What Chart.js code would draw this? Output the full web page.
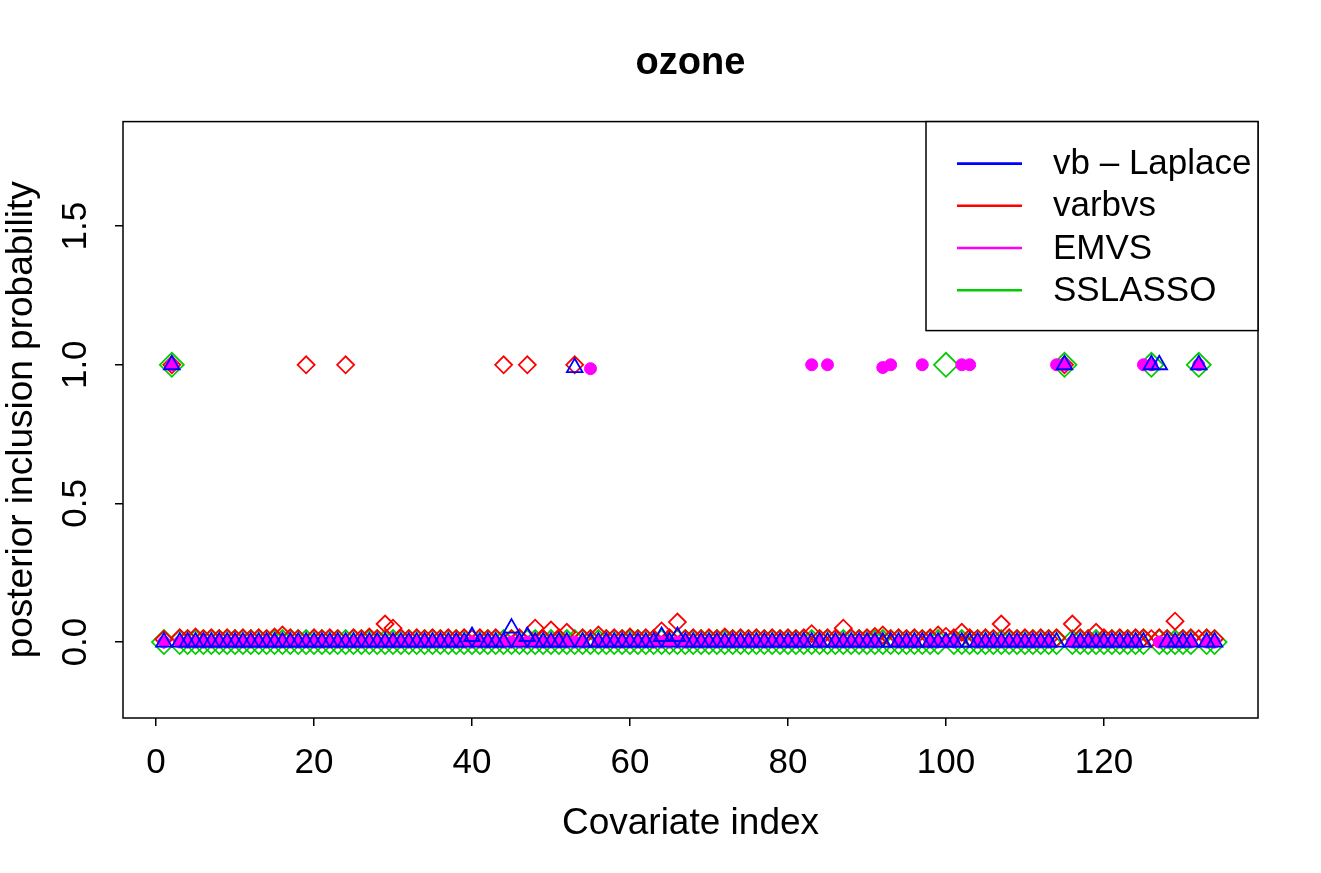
<!DOCTYPE html>
<html>
<head>
<meta charset="utf-8">
<title>ozone</title>
<script src="https://cdn.jsdelivr.net/npm/chart.js@4.4.1/dist/chart.umd.min.js"></script>
<style>
  html, body { margin: 0; padding: 0; background: #ffffff; }
  canvas { display: block; }
</style>
</head>
<body>
<canvas id="ozoneChart" width="1321" height="873"></canvas>
<script>
// Covariate index 1..134
var covariateIndex = Array.from({ length: 134 }, function (_, i) { return i + 1; });

// Posterior inclusion probabilities (index 1..134)
var vbLaplace = [
    0, 1, 0, 0, 0, 0, 0, 0, 0, 0,
    0, 0, 0, 0, 0, 0, 0, 0, 0, 0,
    0, 0, 0, 0, 0, 0, 0, 0, 0, 0,
    0, 0, 0, 0, 0, 0, 0, 0, 0, 0.02,
    0, 0, 0, 0, 0.05, 0, 0.02, 0, 0, 0,
    0, 0, 0.99, 0, 0, 0, 0, 0, 0, 0,
    0, 0, 0, 0.02, 0, 0.02, 0, 0, 0, 0,
    0, 0, 0, 0, 0, 0, 0, 0, 0, 0,
    0, 0, 0, 0, 0, 0, 0, 0, 0, 0,
    0, 0, 0, 0, 0, 0, 0, 0, 0, 0,
    0, 0, 0, 0, 0, 0, 0, 0, 0, 0,
    0, 0, 0, 0, 1, 0, 0, 0, 0, 0,
    0, 0, 0, 0, 0, 1, 1, 0, 0, 0,
    0, 1, 0, 0
];

var varbvs = [
    0.01, 1, 0.015, 0.012, 0.018, 0.012, 0.015, 0.012, 0.015, 0.012,
    0.015, 0.012, 0.015, 0.012, 0.018, 0.025, 0.015, 0.012, 1, 0.015,
    0.012, 0.015, 0.012, 1, 0.015, 0.012, 0.018, 0.012, 0.065, 0.05,
    0.015, 0.012, 0.015, 0.012, 0.015, 0.012, 0.015, 0.012, 0.015, 0.012,
    0.015, 0.012, 0.015, 1, 0.012, 0.015, 1, 0.05, 0.012, 0.043,
    0.015, 0.035, 1, 0.015, 0.012, 0.025, 0.012, 0.015, 0.012, 0.018,
    0.012, 0.015, 0.012, 0.04, 0.015, 0.072, 0.012, 0.015, 0.012, 0.015,
    0.012, 0.018, 0.012, 0.015, 0.012, 0.015, 0.012, 0.015, 0.012, 0.015,
    0.012, 0.015, 0.03, 0.012, 0.015, 0.012, 0.05, 0.015, 0.012, 0.015,
    0.02, 0.025, 0.012, 0.015, 0.012, 0.015, 0.012, 0.015, 0.025, 0.02,
    0.015, 0.035, 0.015, 0.012, 0.015, 0.012, 0.065, 0.015, 0.012, 0.015,
    0.012, 0.015, 0.012, 0.015, 1, 0.065, 0.015, 0.012, 0.035, 0.015,
    0.012, 0.015, 0.012, 0.015, 0.015, 0.012, 0.015, 0.012, 0.075, 0.012,
    0.015, 0.012, 0.015, 0.012
];

var emvs = [
    0, 1, 0, 0, 0, 0, 0, 0, 0, 0,
    0, 0, 0, 0, 0, 0, 0, 0, 0, 0,
    0, 0, 0, 0, 0, 0, 0, 0, 0, 0,
    0, 0, 0, 0, 0, 0, 0, 0, 0, 0,
    0, 0, 0, 0, 0, 0, 0, 0, 0, 0,
    0, 0, 0, 0, 0.986, 0, 0, 0, 0, 0,
    0, 0, 0, 0, 0, 0, 0, 0, 0, 0,
    0, 0, 0, 0, 0, 0, 0, 0, 0, 0,
    0, 0, 1, 0, 1, 0, 0, 0, 0, 0,
    0, 0.99, 1, 0, 0, 0, 1, 0, 0, 0,
    0, 1, 1, 0, 0, 0, 0, 0, 0, 0,
    0, 0, 0, 1, 1, 0, 0, 0, 0, 0,
    0, 0, 0, 0, 1, 1, 0, 0, 0, 0,
    0, 1, 0, 0
];

var sslasso = [
    0, 1, 0, 0, 0, 0, 0, 0, 0, 0,
    0, 0, 0, 0, 0, 0, 0, 0, 0, 0,
    0, 0, 0, 0, 0, 0, 0, 0, 0, 0,
    0, 0, 0, 0, 0, 0, 0, 0, 0, 0,
    0, 0, 0, 0, 0, 0, 0, 0, 0, 0,
    0, 0, 0, 0, 0, 0, 0, 0, 0, 0,
    0, 0, 0, 0, 0, 0, 0, 0, 0, 0,
    0, 0, 0, 0, 0, 0, 0, 0, 0, 0,
    0, 0, 0, 0, 0, 0, 0, 0, 0, 0,
    0, 0, 0, 0, 0, 0, 0, 0, 0, 1,
    0, 0, 0, 0, 0, 0, 0, 0, 0, 0,
    0, 0, 0, 0, 1, 0, 0, 0, 0, 0,
    0, 0, 0, 0, 0, 1, 0, 0, 0, 0,
    0, 1, 0, 0
];

var xTicks = [0, 20, 40, 60, 80, 100, 120];
var yTicks = [0, 0.5, 1.0, 1.5];
var yTickLabels = ["0.0", "0.5", "1.0", "1.5"];

var seriesNames  = ["vb \u2013 Laplace", "varbvs", "EMVS", "SSLASSO"];
var seriesColors = ["#0000FF", "#FF0000", "#FF00FF", "#00CD00"];

var fontFamily = '"Liberation Sans", Arial, Helvetica, sans-serif';

function toPoints(values)
{
    return values.map(function (v, i) { return { x: covariateIndex[i], y: v }; });
}

// Box round the plot, rotated y tick labels, legend (R style)
var rPlotDecor = {
    id: "rPlotDecor",
    afterDraw: function (chart)
    {
        var ctx  = chart.ctx;
        var area = chart.chartArea;
        var y    = chart.scales.y;

        ctx.save();
        ctx.strokeStyle = "#000";
        ctx.lineWidth   = 1.5;
        ctx.strokeRect(area.left, area.top, area.right - area.left, area.bottom - area.top);

        // y tick labels, reading bottom to top
        ctx.fillStyle    = "#000";
        ctx.font         = "35px " + fontFamily;
        ctx.textAlign    = "center";
        ctx.textBaseline = "alphabetic";
        y.ticks.forEach(function (t)
        {
            ctx.save();
            ctx.translate(area.left - 37, y.getPixelForValue(t.value));
            ctx.rotate(-Math.PI / 2);
            ctx.fillText(t.label, 0, 0);
            ctx.restore();
        });

        // legend
        var boxLeft  = area.right - 332;
        var boxTop   = area.top;
        ctx.fillStyle = "#fff";
        ctx.fillRect(boxLeft, boxTop, 332, 209);
        ctx.strokeRect(boxLeft, boxTop, 332, 209);

        ctx.font         = "35px " + fontFamily;
        ctx.textAlign    = "left";
        ctx.textBaseline = "middle";
        seriesNames.forEach(function (name, i)
        {
            var ly = boxTop + 42 + i * 42.2;
            ctx.strokeStyle = seriesColors[i];
            ctx.lineWidth   = 2.6;
            ctx.beginPath();
            ctx.moveTo(boxLeft + 31, ly);
            ctx.lineTo(boxLeft + 96, ly);
            ctx.stroke();
            ctx.fillStyle = "#000";
            ctx.fillText(name, boxLeft + 127, ly + 1);
        });
        ctx.restore();
    }
};

new Chart(document.getElementById("ozoneChart"), {
    type:    "scatter",
    data:    {
        datasets: [
            {
                label:           seriesNames[0],
                data:            toPoints(vbLaplace),
                pointStyle:      "triangle",
                pointRadius:     9,
                borderColor:     seriesColors[0],
                backgroundColor: "rgba(0,0,0,0)",
                borderWidth:     1.8,
                order:           0
            },
            {
                label:           seriesNames[1],
                data:            toPoints(varbvs),
                pointStyle:      "rectRot",
                pointRadius:     8.5,
                borderColor:     seriesColors[1],
                backgroundColor: "rgba(0,0,0,0)",
                borderWidth:     1.8,
                order:           2
            },
            {
                label:           seriesNames[2],
                data:            toPoints(emvs),
                pointStyle:      "circle",
                pointRadius:     6,
                borderColor:     seriesColors[2],
                backgroundColor: seriesColors[2],
                borderWidth:     1,
                order:           1
            },
            {
                label:           seriesNames[3],
                data:            toPoints(sslasso),
                pointStyle:      "rectRot",
                pointRadius:     12,
                borderColor:     seriesColors[3],
                backgroundColor: "rgba(0,0,0,0)",
                borderWidth:     1.8,
                order:           3
            }
        ]
    },
    options: {
        responsive:       false,
        animation:        false,
        devicePixelRatio: 1,
        events:           [],
        layout:           { padding: { left: 0, right: 63, top: 0, bottom: 0 } },
        plugins:          {
            legend:  { display: false },
            tooltip: { enabled: false },
            title:   {
                display:  true,
                fullSize: false,
                text:     "ozone",
                color:    "#000",
                font:     { family: fontFamily, size: 38, weight: "bold" },
                padding:  { top: 41, bottom: 35 }
            }
        },
        scales:           {
            x: {
                type:            "linear",
                min:             -4.18,
                max:             139.5,
                afterBuildTicks: function (scale)
                {
                    scale.ticks = xTicks.map(function (v) { return { value: v }; });
                },
                afterFit:        function (scale) { scale.height = 155; },
                ticks:           {
                    color:       "#000",
                    font:        { family: fontFamily, size: 35 },
                    padding:     16,
                    maxRotation: 0,
                    autoSkip:    false
                },
                grid:            {
                    drawOnChartArea: false,
                    drawTicks:       true,
                    tickLength:      8,
                    color:           "#000",
                    lineWidth:       1.5
                },
                border:          { display: false },
                title:           {
                    display: true,
                    text:    "Covariate index",
                    color:   "#000",
                    font:    { family: fontFamily, size: 37 },
                    padding: { top: 0, bottom: 27 }
                }
            },
            y: {
                type:            "linear",
                min:             -0.274,
                max:             1.877,
                afterBuildTicks: function (scale)
                {
                    scale.ticks = yTicks.map(function (v) { return { value: v }; });
                },
                afterFit:        function (scale) { scale.width = 123; },
                ticks:           {
                    display:  false,
                    callback: function (v) { return yTickLabels[yTicks.indexOf(v)]; }
                },
                grid:            {
                    drawOnChartArea: false,
                    drawTicks:       true,
                    tickLength:      8,
                    color:           "#000",
                    lineWidth:       1.5
                },
                border:          { display: false },
                title:           {
                    display: true,
                    text:    "posterior inclusion probability",
                    color:   "#000",
                    font:    { family: fontFamily, size: 37 },
                    padding: { top: 0, bottom: 0 }
                }
            }
        }
    },
    plugins: [rPlotDecor]
});
</script>
</body>
</html>
